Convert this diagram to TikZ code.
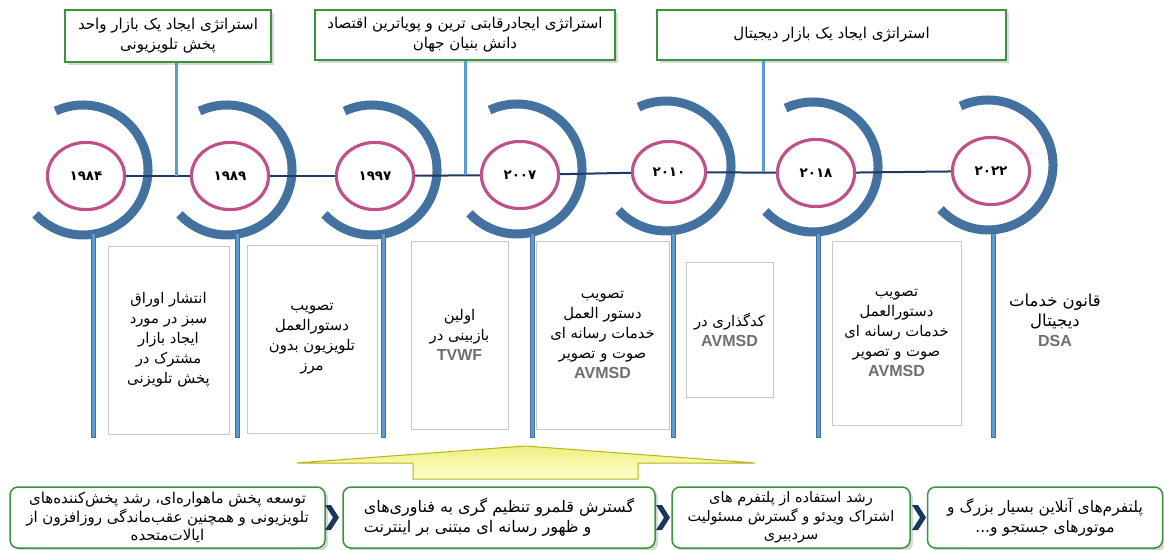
\documentclass[tikz,border=0pt]{standalone}
\usepackage{fontspec}
\TeXXeTstate=1
\newfontfamily\fa[Script=Arabic]{DejaVu Sans}
\newfontfamily\lat{Liberation Sans}
\usetikzlibrary{shadows,shapes.geometric}
\definecolor{arcblue}{RGB}{68,114,160}
\definecolor{ringpink}{RGB}{192,80,138}
\definecolor{navy}{RGB}{31,56,100}
\definecolor{lineblue}{RGB}{91,155,213}
\definecolor{lineedge}{RGB}{65,113,156}
\definecolor{boxgreen}{RGB}{56,150,56}
\definecolor{grayedge}{RGB}{200,200,200}
\definecolor{latgray}{RGB}{110,110,115}
\definecolor{chev}{RGB}{23,55,94}
\definecolor{yeltop}{RGB}{238,238,130}
\definecolor{yelbot}{RGB}{255,255,205}
\definecolor{yeledge}{RGB}{185,180,20}
\newcommand\rl[1]{\beginR #1\endR}
\newcommand\ab[1]{{\lat\bfseries\color{latgray}\fontsize{16}{20}\selectfont #1}}
\newcommand\bigarc[2]{\draw[arcst] (#1,#2) ++(-115:65) arc[start angle=-115,end angle=137,radius=65];}
\newcommand\pillar[1]{\filldraw[fill=lineblue,draw=lineedge,line width=0.6] (#1-2,233) rectangle (#1+2,437);}
\newcommand\chevron[1]{\fill[chev] (#1,505) -- (#1+6,505) -- (#1+14,517.5) -- (#1+6,530) -- (#1,530) -- (#1+8,517.5) -- cycle;}
\newcommand\fs[2]{\fa\fontsize{#1}{#2}\selectfont}
\begin{document}
\begin{tikzpicture}[x=1pt,y=-1pt,
  topbox/.style={draw=boxgreen,line width=2,fill=white,
    drop shadow={shadow xshift=3pt,shadow yshift=-3pt,opacity=.3},
    align=center,inner sep=0,font=\fs{15}{20}},
  botbox/.style={draw=boxgreen,line width=1.5,fill=white,rounded corners=8,
    drop shadow={shadow xshift=3pt,shadow yshift=-3pt,opacity=.3},
    align=center,inner sep=0,font=\fs{15}{18.5}},
  graybox/.style={draw=grayedge,line width=0.8,fill=white,align=center,
    inner sep=0,font=\fs{14.8}{20}},
  plaintext/.style={align=center,inner sep=0,font=\fs{16.5}{20}},
  ring/.style={ellipse,draw=ringpink,line width=3,fill=white,inner sep=0,
    minimum width=77,minimum height=67,font=\fa\bfseries\fontsize{13.5}{15}\selectfont},
  arcst/.style={draw=arcblue,line width=9},
  tl/.style={draw=navy,line width=2},
  conn/.style={draw=lineblue,line width=3}]
\useasboundingbox (0,0) rectangle (1164,549);
\fill[white] (0,0) rectangle (1164,549);

% big arcs
\bigarc{83}{170}
\bigarc{227}{170}
\bigarc{372}{170}
\bigarc{517}{169}
\bigarc{666}{166}
\bigarc{813}{167}
\bigarc{988}{165}

% pillars
\pillar{93}\pillar{237}\pillar{383}\pillar{532}\pillar{673}\pillar{818}\pillar{993}

% year rings
\node[ring] (y1) at (86,176) {۱۹۸۴};
\node[ring] (y2) at (230,176) {۱۹۸۹};
\node[ring] (y3) at (375,176) {۱۹۹۷};
\node[ring] (y4) at (520,175) {۲۰۰۷};
\node[ring,minimum width=73,minimum height=61] (y5) at (669,172) {۲۰۱۰};
\node[ring] (y6) at (816,173) {۲۰۱۸};
\node[ring] (y7) at (991,171) {۲۰۲۲};

% timeline
\draw[tl] (y1) -- (y2);
\draw[tl] (y2) -- (y3);
\draw[tl] (y3) -- (y4);
\draw[tl] (y4) -- (y5);
\draw[tl] (y5) -- (y6);
\draw[tl] (y6) -- (y7);
% rings again, over the line ends
\node[ring] at (y1) {۱۹۸۴};
\node[ring] at (y2) {۱۹۸۹};
\node[ring] at (y3) {۱۹۹۷};
\node[ring] at (y4) {۲۰۰۷};
\node[ring,minimum width=73,minimum height=61] at (y5) {۲۰۱۰};
\node[ring] at (y6) {۲۰۱۸};
\node[ring] at (y7) {۲۰۲۲};

% top boxes
\node[topbox,minimum width=206,minimum height=52] (t1) at (168,36)
  {\rl{استراتژی ایجاد یک بازار واحد}\\\rl{پخش تلویزیونی}};
\node[topbox,minimum width=300,minimum height=50] (t2) at (465,34.5)
  {\rl{استراتژی ایجادرقابتی ترین و پویاترین اقتصاد}\\\rl{دانش بنیان جهان}};
\node[topbox,minimum width=349,minimum height=50] (t3) at (831.5,34.5)
  {\rl{استراتژی ایجاد یک بازار دیجیتال}};
\coordinate (j1) at ([xshift=8pt]t1.south |- y1.east);
\coordinate (j2) at (t2.south |- y4.east);
\coordinate (j3) at ([xshift=-68.5pt]t3.south |- y5.east);
\draw[conn] ([xshift=8pt]t1.south) -- (j1);
\draw[conn] (t2.south) -- (j2);
\draw[conn] ([xshift=-68.5pt]t3.south) -- (j3);

% event boxes
\node[graybox,minimum width=121,minimum height=188] (b1) at (168.5,340)
  {\rl{انتشار اوراق}\\\rl{سبز در مورد}\\\rl{ایجاد بازار}\\\rl{مشترک در}\\\rl{پخش تلویزنی}};
\node[graybox,minimum width=130,minimum height=188] (b2) at (312,339)
  {\rl{تصویب}\\\rl{دستورالعمل}\\\rl{تلویزیون بدون}\\\rl{مرز}};
\node[graybox,minimum width=97,minimum height=188] (b3) at (459.5,335)
  {\rl{اولین}\\\rl{بازبینی در}\\\ab{TVWF}};
\node[graybox,minimum width=133,minimum height=188] (b4) at (602.5,335)
  {\rl{تصویب}\\\rl{دستور العمل}\\\rl{خدمات رسانه ای}\\\rl{صوت و تصویر}\\\ab{AVMSD}};
\node[graybox,minimum width=87,minimum height=135] (b5) at (729.5,329.5)
  {\rl{کدگذاری در}\\\ab{AVMSD}};
\node[graybox,minimum width=129,minimum height=184] (b6) at (896.5,333)
  {\rl{تصویب}\\\rl{دستورالعمل}\\\rl{خدمات رسانه ای}\\\rl{صوت و تصویر}\\\ab{AVMSD}};
\node[plaintext] (b7) at (1055,320)
  {\rl{قانون خدمات}\\\rl{دیجیتال}\\\ab{DSA}};

% yellow arrow
\shadedraw[top color=yeltop,bottom color=yelbot,draw=yeledge,line width=1]
  (297,463) -- (525,446) -- (755,463) -- (638,463) -- (638,479)
  -- (413,479) -- (413,463) -- cycle;

% bottom boxes
\node[botbox,minimum width=315,minimum height=61] (c1) at (167.5,517.5)
  {\rl{توسعه پخش ماهواره‌ای، رشد پخش‌کننده‌های}\\\rl{تلویزیونی و همچنین عقب‌ماندگی روزافزون از}\\\rl{ایالات‌متحده}};
\node[botbox,minimum width=312,minimum height=61,align=left,font=\fs{16}{20}] (c2) at (499,517.5)
  {\rl{گسترش قلمرو تنظیم گری به فناوری‌های}\\\rl{و ظهور رسانه ای مبتنی بر اینترنت}};
\node[botbox,minimum width=238,minimum height=61,font=\fs{14.5}{18.5}] (c3) at (791,517.5)
  {\rl{رشد استفاده از پلتفرم های}\\\rl{اشتراک ویدئو و گسترش مسئولیت}\\\rl{سردبیری}};
\node[botbox,minimum width=235,minimum height=61,font=\fs{15.5}{20}] (c4) at (1045,517.5)
  {\rl{پلتفرم‌های آنلاین بسیار بزرگ و}\\\rl{موتورهای جستجو و\hbox{...}}};

\chevron{325}
\chevron{656}
\chevron{912}
\end{tikzpicture}
\end{document}
